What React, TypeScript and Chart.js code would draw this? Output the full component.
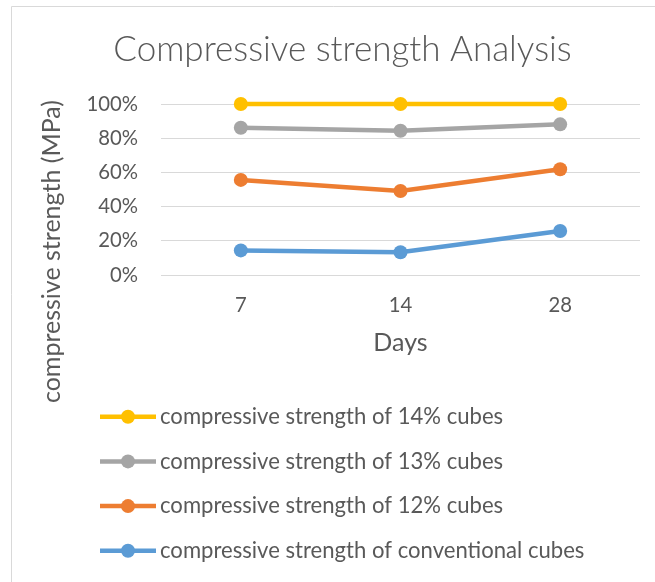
import React, { useEffect, useRef } from "react";
import { Chart, registerables } from "chart.js";

Chart.register(...registerables);

// ---------- data ----------
const categories = ["7", "14", "28"];
const seriesLabels = [
  "compressive strength of 14% cubes",
  "compressive strength of 13% cubes",
  "compressive strength of 12% cubes",
  "compressive strength of conventional cubes",
];
const strength14 = [100, 100, 100];
const strength13 = [86.1, 84.4, 88.1];
const strength12 = [55.6, 49.1, 61.8];
const strengthConventional = [14.4, 13.3, 25.7];
const seriesColors = ["#FFC000", "#A5A5A5", "#ED7D31", "#5B9BD5"];
const yMin = 0;
const yMax = 100;
const yStep = 20;
const chartTitle = "Compressive strength Analysis";
const xAxisTitle = "Days";
const yAxisTitle = "compressive strength (MPa)";

// ---------- styling ----------
const FONT = "Lato";
const TEXT = "#595959";
const GRID = "#D9D9D9";

function fitSize(text: string, width: number, weight: number): number {
  const c = document.createElement("canvas").getContext("2d");
  if (!c) return 20;
  c.font = `${weight} 100px ${FONT}`;
  const w = c.measureText(text).width;
  return Math.round(((100 * width) / w) * 10) / 10;
}

export default function App() {
  const canvasRef = useRef<HTMLCanvasElement | null>(null);

  useEffect(() => {
    const canvas = canvasRef.current;
    if (!canvas) return;

    const titleSize = fitSize(chartTitle, 459, 300);
    const legendSize = fitSize(seriesLabels[0], 343, 400);
    const yTitleSize = fitSize(yAxisTitle, 303, 400);
    const tickSize = fitSize("100%", 51.6, 400);
    const xTitleSize = yTitleSize;

    const rowStep = 44.7;
    const legendPad = rowStep - legendSize;
    const legendHeight = 4 * rowStep + 10;
    const legendTop = 372 + legendSize / 2;
    const bottomPad = 582 - legendHeight - legendTop;
    const leftPad = 100 - legendPad;
    const plotLeft = 161;
    const plotRight = 640;
    const plotTop = 104;
    const xTitleLine = 15;
    const xTitlePadBottom = legendTop - (335 + xTitleLine);

    const datasets = [strength14, strength13, strength12, strengthConventional].map(
      (values, i) => ({
        label: seriesLabels[i],
        data: values,
        borderColor: seriesColors[i],
        backgroundColor: seriesColors[i],
        borderWidth: 4.5,
        pointRadius: 7,
        pointHoverRadius: 7,
        pointBorderWidth: 0,
        pointBackgroundColor: seriesColors[i],
        tension: 0,
        clip: false,
      })
    );

    const decor = {
      id: "decor",
      beforeDraw(chart: any) {
        const ctx = chart.ctx;
        ctx.save();
        ctx.strokeStyle = GRID;
        ctx.lineWidth = 1;
        ctx.beginPath();
        ctx.moveTo(11.5, 582);
        ctx.lineTo(11.5, 6.5);
        ctx.lineTo(655, 6.5);
        ctx.stroke();
        ctx.restore();
      },
      afterDraw(chart: any) {
        const ctx = chart.ctx;
        ctx.save();
        // chart title
        ctx.fillStyle = TEXT;
        ctx.font = `300 ${titleSize}px ${FONT}`;
        ctx.textAlign = "center";
        ctx.textBaseline = "alphabetic";
        ctx.fillText(chartTitle, 342.5, 61);
        // y axis title
        ctx.save();
        ctx.translate(60, 251.5);
        ctx.rotate(-Math.PI / 2);
        ctx.font = `400 ${yTitleSize}px ${FONT}`;
        ctx.textAlign = "center";
        ctx.textBaseline = "alphabetic";
        ctx.fillText(yAxisTitle, 0, 0);
        ctx.restore();
        // legend symbols
        const legend = chart.legend;
        if (legend && legend.legendHitBoxes) {
          legend.legendHitBoxes.forEach((hb: any, i: number) => {
            const item = legend.legendItems[i];
            const color = seriesColors[item.datasetIndex];
            const y = hb.top + hb.height / 2;
            ctx.strokeStyle = color;
            ctx.fillStyle = color;
            ctx.lineWidth = 4.5;
            ctx.lineCap = "butt";
            ctx.beginPath();
            ctx.moveTo(hb.left, y);
            ctx.lineTo(hb.left + 56, y);
            ctx.stroke();
            ctx.beginPath();
            ctx.arc(hb.left + 28, y, 7, 0, Math.PI * 2);
            ctx.fill();
          });
        }
        ctx.restore();
      },
    };

    const chart = new Chart(canvas, {
      type: "line",
      data: { labels: categories, datasets },
      plugins: [decor],
      options: {
        animation: false,
        responsive: true,
        maintainAspectRatio: false,
        layout: {
          padding: { top: plotTop, left: leftPad, right: 655 - plotRight, bottom: bottomPad },
        },
        plugins: {
          title: { display: false },
          tooltip: { enabled: false },
          legend: {
            display: true,
            position: "bottom",
            align: "start",
            labels: {
              boxWidth: 60 - legendSize / 2,
              boxHeight: 2,
              padding: legendPad,
              color: TEXT,
              font: { family: FONT, size: legendSize, weight: "400" },
              generateLabels: (c: any) =>
                Chart.defaults.plugins.legend.labels
                  .generateLabels(c)
                  .map((l: any) => ({
                    ...l,
                    fillStyle: "rgba(0,0,0,0)",
                    strokeStyle: "rgba(0,0,0,0)",
                    lineWidth: 0,
                    fontColor: TEXT,
                  })),
            },
          },
        },
        scales: {
          x: {
            type: "category",
            offset: true,
            grid: { display: false, drawTicks: false },
            border: { display: false },
            ticks: {
              color: TEXT,
              padding: 20,
              font: { family: FONT, size: tickSize, lineHeight: "20px" },
            },
            title: {
              display: true,
              text: xAxisTitle,
              color: TEXT,
              font: { family: FONT, size: xTitleSize, lineHeight: `${xTitleLine}px` },
              padding: { top: 0, bottom: xTitlePadBottom },
            },
          },
          y: {
            min: yMin,
            max: yMax,
            grid: { color: GRID, lineWidth: 1, drawTicks: false },
            border: { display: false },
            ticks: {
              stepSize: yStep,
              color: TEXT,
              padding: 23,
              font: { family: FONT, size: tickSize },
              callback: (v: any) => `${v}%`,
            },
            afterFit: (scale: any) => {
              scale.width = plotLeft - leftPad;
            },
          },
        },
      },
    } as any);

    return () => chart.destroy();
  }, []);

  return (
    <div style={{ position: "fixed", left: 0, top: 0, width: 655, height: 582, background: "#fff" }}>
      <canvas ref={canvasRef} />
    </div>
  );
}
